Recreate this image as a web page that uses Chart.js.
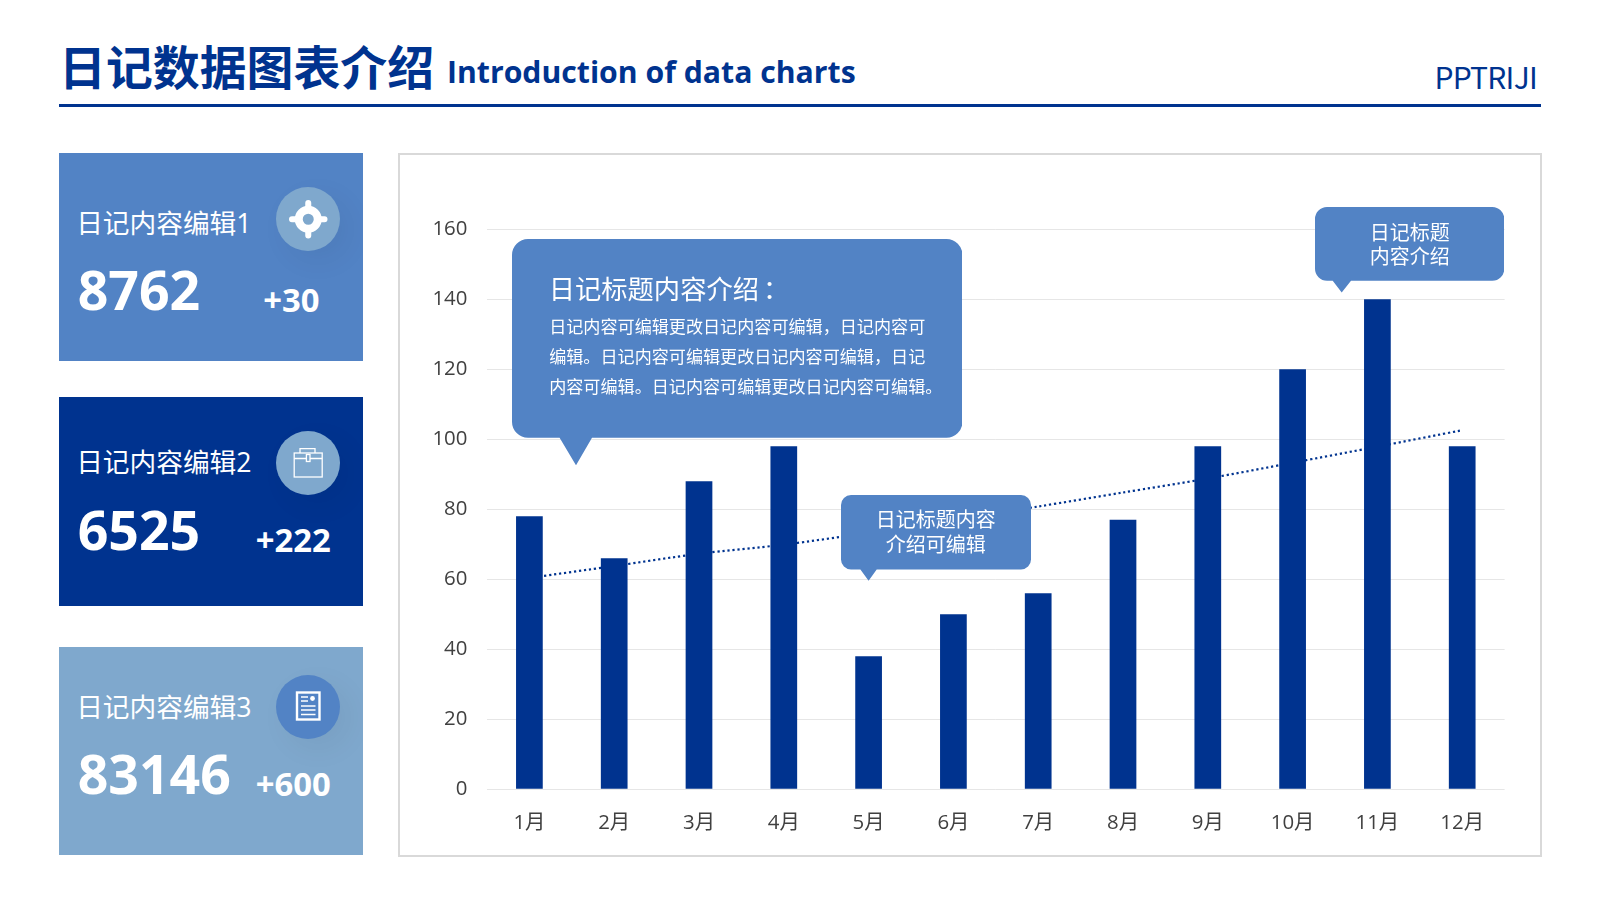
<!DOCTYPE html>
<html lang="zh-CN">
<head>
<meta charset="utf-8">
<title>日记数据图表介绍</title>
<script src="https://cdn.jsdelivr.net/npm/chart.js@4"></script>
<style>
  html, body { margin: 0; padding: 0; background: #fff; }
  body { width: 1600px; height: 900px; position: relative; overflow: hidden; font-family: "Open Sans", "Noto Sans CJK SC", sans-serif; }
  .abs { position: absolute; white-space: nowrap; }
  .title { left: 59px; top: 35px; line-height: 60px; font-size: 46.9px; font-weight: 700; color: #00338f; font-family: "Noto Sans CJK SC", sans-serif; }
  .sub { left: 447px; top: 47.5px; font: 700 30.2px/48px "Open Sans", sans-serif; color: #00338f; }
  .brand { right: 63px; top: 54px; font: 400 30px/44px "Noto Sans CJK SC", sans-serif; letter-spacing: -0.75px; color: #00338f; }
  .rule { left: 59px; top: 104px; width: 1482px; height: 3px; background: #00338f; }
  .card { left: 59.2px; width: 304px; height: 208.6px; overflow: hidden; }
  .label { left: 17px; font-size: 26.7px; line-height: 40px; font-weight: 400; color: #fff; }
  .num { left: 18.5px; font: 700 53.6px/80px "Open Sans", sans-serif; color: #fff; }
  .plus { font: 700 32.8px/48px "Open Sans", sans-serif; color: #fff; }
  .icon { left: 216.8px; width: 64.5px; height: 64.5px; border-radius: 50%; box-shadow: 10px 10px 30px rgba(0,0,0,.05); }
  .icon svg { position: absolute; left: 0; top: 0; }
  .panel { left: 398px; top: 152.5px; width: 1144px; height: 704px; box-sizing: border-box; border: 2.5px solid #d9d9d9; background: #fff; }
  canvas { position: absolute; left: 398px; top: 153px; }
  .bubble { color: #fff; }
  .bubble svg { position: absolute; left: 0; top: 0; }
  .bubble div { position: absolute; white-space: nowrap; }
  .small { font-size: 20px; line-height: 24.5px; font-weight: 400; left: 0; right: 0; text-align: center; }
  .body { left: 37.5px; font-size: 17.1px; line-height: 30px; font-weight: 400; }
</style>
</head>
<body>
<div class="abs title">日记数据图表介绍</div>
<div class="abs sub">Introduction of data charts</div>
<div class="abs brand">PPTRIJI</div>
<div class="abs rule"></div>

<div class="abs card" style="top:152.7px;background:#5283c5">
  <div class="abs label" style="top:50px">日记内容编辑1</div>
  <div class="abs num" style="top:97.2px">8762</div>
  <div class="abs plus" style="left:204px;top:123px">+30</div>
  <div class="abs icon" style="top:34.3px;background:#7fa8cd">
    <svg width="64.5" height="64.5" viewBox="0 0 64.5 64.5">
      <circle cx="32.25" cy="32.25" r="9.5" fill="none" stroke="#fff" stroke-width="8"/>
      <path d="M32.25 16v6M32.25 42.5v6M16 32.25h6M42.5 32.25h6" stroke="#fff" stroke-width="6" stroke-linecap="round"/>
    </svg>
  </div>
</div>

<div class="abs card" style="top:397.3px;background:#00338f">
  <div class="abs label" style="top:45px">日记内容编辑2</div>
  <div class="abs num" style="top:92.9px">6525</div>
  <div class="abs plus" style="left:196.5px;top:118.7px">+222</div>
  <div class="abs icon" style="top:33.4px;background:#7fa8cd">
    <svg width="64.5" height="64.5" viewBox="0 0 64.5 64.5" fill="none" stroke="#fff" stroke-width="1.3">
      <rect x="18.2" y="22" width="28" height="24"/>
      <path d="M24 22v-4.3h15v4.3M18.2 27.5h12M34 27.5h12.2"/>
      <rect x="30.4" y="23.5" width="3.6" height="7"/>
    </svg>
  </div>
</div>

<div class="abs card" style="top:646.7px;background:#7fa8cd">
  <div class="abs label" style="top:40.2px">日记内容编辑3</div>
  <div class="abs num" style="top:87.8px">83146</div>
  <div class="abs plus" style="left:196.5px;top:113.3px">+600</div>
  <div class="abs icon" style="top:28px;background:#5283c5">
    <svg width="64.5" height="64.5" viewBox="0 0 64.5 64.5" fill="none" stroke="#fff">
      <rect x="21" y="17.5" width="22.5" height="27" stroke-width="2.4"/>
      <path d="M25 22h7M25 26h7M25 31h14.5M25 35h14.5M25 39.5h14.5" stroke-width="1.6"/>
      <circle cx="36.5" cy="23.5" r="2.4" fill="#fff" stroke="none"/>
    </svg>
  </div>
</div>

<div class="abs panel"></div>
<canvas id="trendChart" width="1143" height="703"></canvas>

<div class="abs bubble" style="left:511.7px;top:239px;width:450.5px;height:226.3px">
  <svg width="450.5" height="226.3"><path fill="#5283c5" d="M16 0H434.5a16 16 0 0 1 16 16V182.7a16 16 0 0 1-16 16H80L64 226.3 47.6 198.7H16a16 16 0 0 1-16-16V16A16 16 0 0 1 16 0Z"/></svg>
  <div style="left:37px;top:28.5px;font-size:26.3px;line-height:40px;font-weight:400;font-family:'Noto Sans CJK SC',sans-serif">日记标题内容介绍<span style="margin-left:4px">：</span></div>
  <div class="body" style="top:72.7px">日记内容可编辑更改日记内容可编辑，日记内容可</div>
  <div class="body" style="top:102.7px">编辑。日记内容可编辑更改日记内容可编辑，日记</div>
  <div class="body" style="top:132.7px">内容可编辑。日记内容可编辑更改日记内容可编辑。</div>
</div>

<div class="abs bubble" style="left:840.8px;top:494.9px;width:190px;height:85.7px">
  <svg width="190" height="85.7"><path fill="#5283c5" d="M10 0H180a10 10 0 0 1 10 10V64.5a10 10 0 0 1-10 10H35.7L27.6 85.7 19.4 74.5H10A10 10 0 0 1 0 64.5V10A10 10 0 0 1 10 0Z"/></svg>
  <div class="small" style="top:13.3px">日记标题内容</div>
  <div class="small" style="top:37.8px">介绍可编辑</div>
</div>

<div class="abs bubble" style="left:1315px;top:207.3px;width:189.3px;height:85.4px">
  <svg width="189.3" height="85.4"><path fill="#5283c5" d="M12 0H177.3a12 12 0 0 1 12 12V61.7a12 12 0 0 1-12 12H36L26.7 85.4 17.7 73.7H12A12 12 0 0 1 0 61.7V12A12 12 0 0 1 12 0Z"/></svg>
  <div class="small" style="top:14.2px">日记标题</div>
  <div class="small" style="top:38.2px">内容介绍</div>
</div>

<script>
const months = ['1月', '2月', '3月', '4月', '5月', '6月', '7月', '8月', '9月', '10月', '11月', '12月'];
const monthValues = [78, 66, 88, 98, 38, 50, 56, 77, 98, 120, 140, 98];
// dotted trend curve at each month
const trendValues = [60.4, 63.8, 67.3, 69.9, 73.3, 77.1, 80.8, 84.8, 88.8, 93.3, 97.9, 102.6];

const axisFont = { family: '"Open Sans", "Noto Sans CJK SC", sans-serif', size: 20.4, weight: '400' };

new Chart(document.getElementById('trendChart'), {
  type: 'bar',
  data: {
    labels: months,
    datasets: [
      {
        type: 'bar',
        data: monthValues,
        backgroundColor: '#00338f',
        barPercentage: 0.315,
        categoryPercentage: 1,
        order: 1
      },
      {
        type: 'line',
        data: trendValues,
        borderColor: '#00338f',
        borderWidth: 2.2,
        borderDash: [2.2, 2.8],
        pointRadius: 0,
        tension: 0.3,
        order: 2
      }
    ]
  },
  options: {
    responsive: false,
    animation: false,
    devicePixelRatio: 1,
    layout: { padding: { top: 76.3, right: 36.4, bottom: 0, left: 0 } },
    plugins: { legend: { display: false }, tooltip: { enabled: false } },
    scales: {
      x: {
        grid: { display: false, drawTicks: false },
        border: { display: false },
        ticks: { color: '#404040', font: axisFont, padding: 22, maxRotation: 0 },
        afterFit: (scale) => { scale.height = 66.7; }
      },
      y: {
        min: 0,
        max: 160,
        grid: { color: '#e6e6e6', lineWidth: 1, drawTicks: false },
        border: { display: false },
        ticks: { stepSize: 20, color: '#404040', font: axisFont, padding: 19.6 },
        afterFit: (scale) => { scale.width = 89; }
      }
    }
  }
});
</script>
</body>
</html>
